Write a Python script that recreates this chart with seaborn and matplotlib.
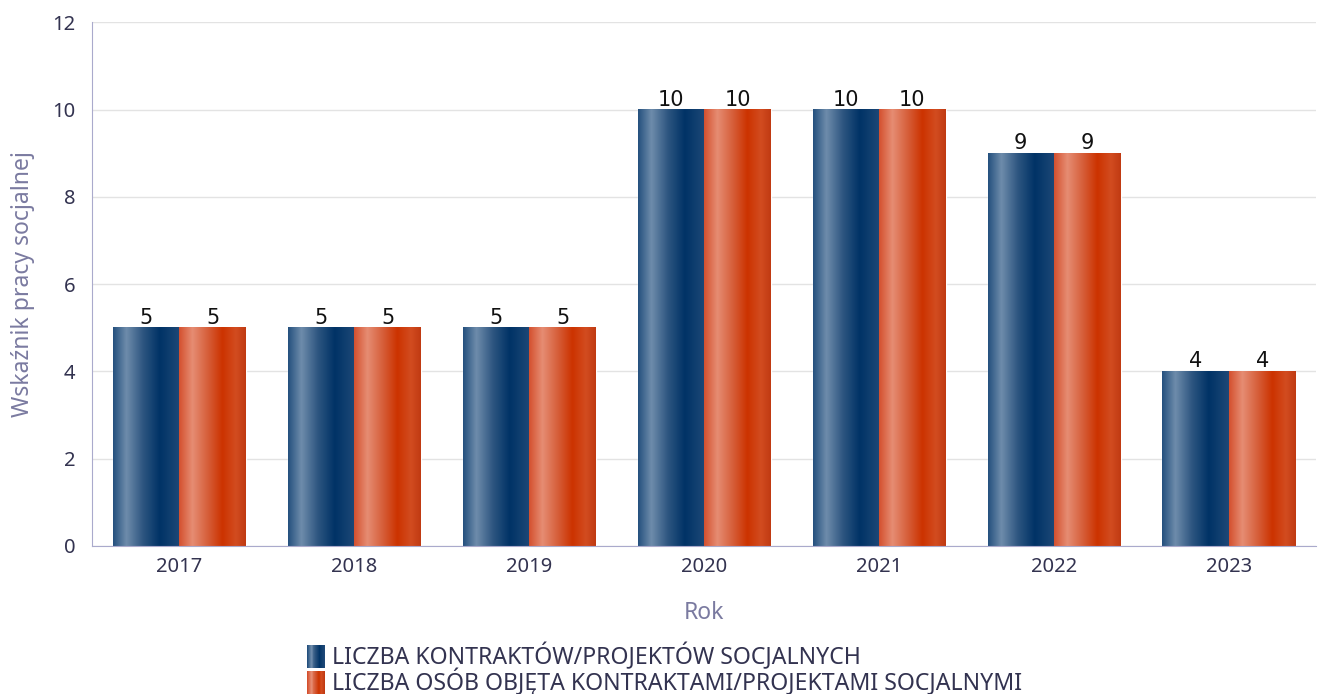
import numpy as np
import pandas as pd
import matplotlib
matplotlib.use("Agg")
import matplotlib.pyplot as plt
import seaborn as sns
from matplotlib.colors import LinearSegmentedColormap
from matplotlib.legend_handler import HandlerBase
from matplotlib.patches import Rectangle

years = ["2017", "2018", "2019", "2020", "2021", "2022", "2023"]
kontrakty = [5, 5, 5, 10, 10, 9, 4]
osoby = [5, 5, 5, 10, 10, 9, 4]
series = ["LICZBA KONTRAKTÓW/PROJEKTÓW SOCJALNYCH",
          "LICZBA OSÓB OBJĘTA KONTRAKTAMI/PROJEKTAMI SOCJALNYMI"]

df = pd.DataFrame({
    "Rok": years * 2,
    "Wartosc": kontrakty + osoby,
    "Seria": [series[0]] * len(years) + [series[1]] * len(years),
})

# gradienty jak w oryginale (poziome)
blue_cm = LinearSegmentedColormap.from_list("blue", [
    (0.0, "#24507e"), (0.2, "#6e8cab"), (0.45, "#2d5580"),
    (0.7, "#003366"), (1.0, "#1e4877")])
orange_cm = LinearSegmentedColormap.from_list("orange", [
    (0.0, "#d4502e"), (0.2, "#e68d73"), (0.45, "#d55a35"),
    (0.65, "#cc3300"), (0.85, "#d24c20"), (1.0, "#c03a12")])
cmaps = [blue_cm, orange_cm]
base_colors = ["#003366", "#cc3300"]

sns.set_style("white")
plt.rcParams["font.family"] = ["Noto Sans", "DejaVu Sans"]

fig = plt.figure(figsize=(13.18, 6.94), dpi=100)
ax = fig.add_axes([0.0698, 0.2133, 0.929, 0.7547])

sns.barplot(data=df, x="Rok", y="Wartosc", hue="Seria", palette=base_colors,
            width=0.76, gap=0, saturation=1, ax=ax, legend=False)

grad = np.linspace(0, 1, 256).reshape(1, -1)
for i, cont in enumerate(ax.containers):
    for bar in cont:
        x, w, h = bar.get_x(), bar.get_width(), bar.get_height()
        ax.imshow(grad, cmap=cmaps[i], aspect="auto", interpolation="bilinear",
                  extent=[x, x + w, 0, h], zorder=bar.get_zorder() + 0.1)
    ax.bar_label(cont, fontsize=15, color="#111111", padding=0,
                 family="DejaVu Sans")

ax.set_xlim(-0.5, 6.5)
ax.set_ylim(0, 12)
ax.set_yticks(range(0, 13, 2))
ax.yaxis.grid(True, color="#e3e3e3", linewidth=1)
ax.set_axisbelow(True)
for s in ["top", "right"]:
    ax.spines[s].set_visible(False)
ax.spines["left"].set_color("#aaaacc")
ax.spines["bottom"].set_color("#aaaacc")
ax.tick_params(axis="both", labelsize=14.5, colors="#333350", length=0)
ax.tick_params(axis="x", pad=8)
ax.tick_params(axis="y", pad=12)
ax.set_xlabel("Rok", fontsize=16.5, color="#7a7aa0", labelpad=17)
ax.set_ylabel("Wskaźnik pracy socjalnej", fontsize=16.5, color="#7a7aa0",
              labelpad=12)


class GradHandler(HandlerBase):
    def __init__(self, cmap):
        super().__init__()
        self.cmap = cmap

    def create_artists(self, legend, orig, xd, yd, width, height, fontsize, trans):
        n = 20
        arts = []
        for k in range(n):
            r = Rectangle((xd + width * k / n, yd - 3), width / n + 0.3, height + 5,
                          facecolor=self.cmap(k / (n - 1)), edgecolor="none",
                          transform=trans)
            arts.append(r)
        return arts


handles = [Rectangle((0, 0), 1, 1), Rectangle((0, 0), 1, 1)]
fig.legend(handles, series, handler_map={handles[0]: GradHandler(blue_cm),
                                         handles[1]: GradHandler(orange_cm)},
           loc="lower left", bbox_to_anchor=(0.221, -0.026), frameon=False,
           fontsize=16.6, labelcolor="#333350", handlelength=0.75,
           handleheight=0.7, handletextpad=0.3, labelspacing=-0.12,
           borderpad=0.2)

fig.savefig("out.png", dpi=100)
